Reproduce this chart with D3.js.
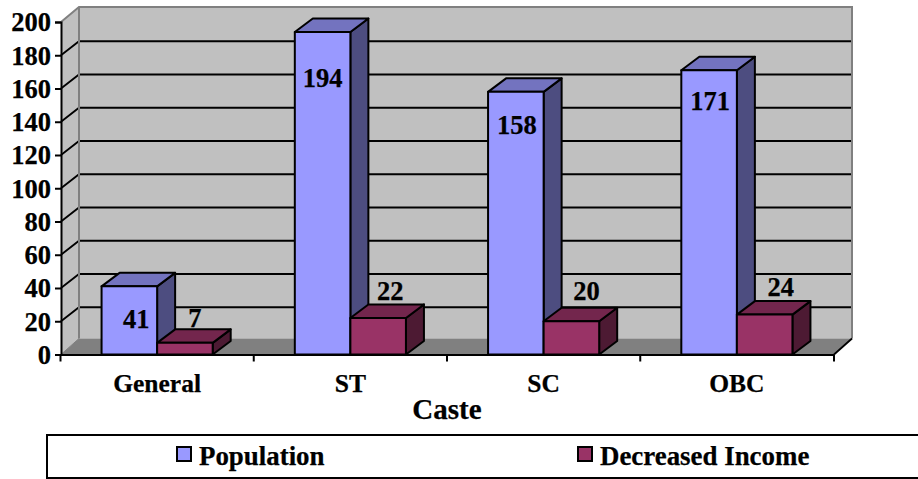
<!DOCTYPE html>
<html><head><meta charset="utf-8">
<script src="https://cdn.jsdelivr.net/npm/d3@7"></script>
<style>html,body{margin:0;padding:0;background:#fff;overflow:hidden}svg{display:block}text{font-family:"Liberation Serif","Times New Roman",serif;font-weight:bold;fill:#000;stroke:#000;stroke-width:.25px}</style>
</head><body><svg id="c" width="918" height="479"></svg>
<script>
const categories = ["General", "ST", "SC", "OBC"];
const seriesNames = ["Population", "Decreased Income"];
const population = [41, 194, 158, 171];
const decreasedIncome = [7, 22, 20, 24];
const yTicks = [0,20,40,60,80,100,120,140,160,180,200];
const xAxisTitle = "Caste";

const colors = {
  Population: {front:"#9999FF", top:"#7373BF", side:"#4D4D80"},
  "Decreased Income": {front:"#993366", top:"#73264D", side:"#4D1A33"}
};
// label nudges relative to default placement [dx, dy from bar top]
const popNudge = [[7,42],[0,55],[1,42],[1,40]];
const decNudge = [[10,-16],[12,-18],[15,-21],[16,-19]];

const DX = 18, DY = 14;
const svg = d3.select("#c");
const x = d3.scaleBand().domain(categories).range([60.5,833.5]).paddingInner(0.425).paddingOuter(0.2125);
const xStep = d3.scaleBand().domain(categories).range([60.5,833.5]);
const x1 = d3.scaleBand().domain(seriesNames).range([0,x.bandwidth()]);
const y = d3.scaleLinear().domain([0,200]).range([354.5,22]);

const poly = pts => pts.map(p=>p.join(",")).join(" ");
const x0=61, x9=834, y0=y(0), yT=y(200);

// walls
svg.append("polygon").attr("points",poly([[x0+DX,yT-DY-1],[x9+DX,yT-DY-1],[x9+DX,y0-DY-2],[x0+DX,y0-DY-2]])).attr("fill","#C0C0C0");
svg.append("polygon").attr("points",poly([[x0,yT],[x0+DX,yT-DY-1],[x0+DX,y0-DY-2],[x0,y0]])).attr("fill","#C0C0C0");
svg.append("polygon").attr("points",poly([[x0,y0],[x0+DX,y0-DY-2],[x9+DX,y0-DY-2],[x9,y0]])).attr("fill","#808080");
// gridlines
const grid = svg.append("g");
yTicks.filter(t=>t>0&&t<200).forEach(t=>{
  grid.append("polyline").attr("points",poly([[x0,y(t)],[x0+DX,y(t)-DY],[x9+DX,y(t)-DY]])).attr("fill","none").attr("stroke","#000").attr("stroke-width",1.8);
});
// wall edges
svg.append("polyline").attr("points",poly([[x0,yT],[x0+DX,yT-DY-1],[x9+DX,yT-DY-1],[x9+DX,y0-DY-2]])).attr("fill","none").attr("stroke","#808080").attr("stroke-width",2);
svg.append("line").attr("x1",x0+DX).attr("x2",x0+DX).attr("y1",yT-DY-1).attr("y2",y0-DY-2).attr("stroke","#808080").attr("stroke-width",2);
svg.append("line").attr("x1",x0).attr("y1",y0).attr("x2",x0+DX).attr("y2",y0-DY-2).attr("stroke","#808080").attr("stroke-width",1);
svg.append("line").attr("x1",x9).attr("y1",y0).attr("x2",x9+DX).attr("y2",y0-DY-2).attr("stroke","#000").attr("stroke-width",1.8);

// bars
const rows = [];
categories.forEach((c,i)=>{
  rows.push({c,s:seriesNames[0],v:population[i],n:popNudge[i]});
  rows.push({c,s:seriesNames[1],v:decreasedIncome[i],n:decNudge[i]});
});
const bars = svg.append("g").selectAll("g").data(rows).join("g")
  .attr("stroke","#000").attr("stroke-width",2).attr("stroke-linejoin","round");
bars.each(function(d){
  const g=d3.select(this), L=x(d.c)+x1(d.s), R=L+x1.bandwidth(), T=y(d.v), B=y(0), col=colors[d.s], dy=13.5;
  g.append("polygon").attr("points",poly([[R,T],[R+DX,T-dy],[R+DX,B-dy],[R,B]])).attr("fill",col.side);
  g.append("polygon").attr("points",poly([[L,T],[L+DX,T-dy],[R+DX,T-dy],[R,T]])).attr("fill",col.top);
  g.append("rect").attr("x",L).attr("y",T).attr("width",R-L).attr("height",B-T).attr("fill",col.front);
});

// axes
const yAxis = d3.axisLeft(y).tickValues(yTicks).tickSize(6).tickPadding(4).tickFormat(d3.format("d"));
const gy = svg.append("g").attr("transform",`translate(${x0},0)`).call(yAxis);
gy.attr("font-family",null).attr("font-size",null);
gy.select(".domain").attr("stroke","#000").attr("stroke-width",2);
gy.selectAll(".tick line").attr("stroke","#000").attr("stroke-width",2);
gy.selectAll(".tick text").attr("font-size",26.5).attr("fill","#000").attr("dy","0.33em");

const gx = svg.append("g").attr("transform",`translate(0,${y0})`)
  .call(d3.axisBottom(xStep).tickSize(0));
gx.attr("font-family",null).attr("font-size",null);
gx.select(".domain").attr("stroke","#000").attr("stroke-width",2);
gx.selectAll(".tick text").attr("font-size",25.5).attr("dy",0).attr("fill","#000").attr("y",37);
const edges = categories.map(c=>xStep(c)).concat([x9]);
gx.selectAll("line.edge").data(edges).join("line").attr("class","edge")
  .attr("x1",d=>d).attr("x2",d=>d).attr("y1",0).attr("y2",7).attr("stroke","#000").attr("stroke-width",2);

// data labels
svg.append("g").selectAll("text").data(rows).join("text")
  .attr("text-anchor","middle").attr("font-size",26.5)
  .attr("x",d=>x(d.c)+x1(d.s)+x1.bandwidth()/2+d.n[0])
  .attr("y",d=>y(d.v)+d.n[1])
  .text(d=>d.v);

// title
svg.append("text").attr("x",447).attr("y",418.5).attr("text-anchor","middle").attr("font-size",29).text(xAxisTitle);

// legend
svg.append("rect").attr("x",47).attr("y",435).attr("width",900).attr("height",43).attr("fill","#fff").attr("stroke","#000").attr("stroke-width",2);
const legX = {Population:[177,199], "Decreased Income":[578,600]};
seriesNames.forEach(s=>{
  svg.append("rect").attr("x",legX[s][0]).attr("y",447).attr("width",14).attr("height",14).attr("fill",colors[s].front).attr("stroke","#000").attr("stroke-width",2);
  svg.append("text").attr("x",legX[s][1]).attr("y",465).attr("font-size",26.9).text(s);
});
</script></body></html>
